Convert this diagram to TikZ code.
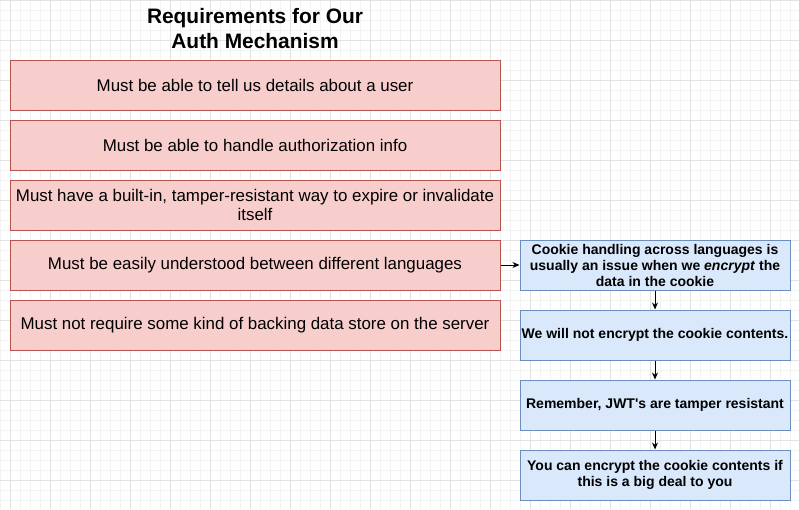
\documentclass[tikz,border=0pt]{standalone}
\usepackage{fontspec}
\setmainfont{Liberation Sans}[Ligatures=TeXOff]
\usetikzlibrary{arrows.meta}
\definecolor{redfill}{HTML}{F8CECC}
\definecolor{redline}{HTML}{B85450}
\definecolor{bluefill}{HTML}{DAE8FC}
\definecolor{blueline}{HTML}{6C8EBF}
\definecolor{gridminor}{HTML}{F3F3F3}
\definecolor{gridmajor}{HTML}{E2E2E2}
\tikzset{
  reqbox/.style={draw=redline, fill=redfill, line width=1pt, minimum width=490pt, minimum height=50pt, align=center, inner sep=0pt, font=\fontsize{16.9}{19.5}\selectfont},
  notebox/.style={draw=blueline, fill=bluefill, line width=1pt, minimum width=270pt, minimum height=50pt, align=center, inner sep=0pt, font=\bfseries\fontsize{14}{16}\selectfont},
  conn/.style={-{Stealth[length=7pt,width=6pt]}, line width=0.9pt, black},
  titletext/.style={align=center, font=\bfseries\fontsize{20.9}{25}\selectfont}
}
\begin{document}
\begin{tikzpicture}[x=1pt,y=-1pt]
\useasboundingbox (0,0) rectangle (799,509);
\fill[white] (0,0) rectangle (799,509);
% grid
\foreach \i in {0,10,...,790} {\draw[gridminor, line width=0.8pt] (\i,0) -- (\i,509);}
\foreach \j in {0,10,...,500} {\draw[gridminor, line width=0.8pt] (0,\j) -- (799,\j);}
\foreach \i in {10,50,...,790} {\draw[gridmajor, line width=0.8pt] (\i,0) -- (\i,509);}
\foreach \j in {0,40,...,480} {\draw[gridmajor, line width=0.8pt] (0,\j) -- (799,\j);}
% title
\node[titletext] (title) at (255,29) {Requirements for Our\\Auth Mechanism};
% requirement boxes
\node[reqbox] (r1) at (255,85) {Must be able to tell us details about a user};
\node[reqbox] (r2) at (255,145) {Must be able to handle authorization info};
\node[reqbox] (r3) at (255,205) {Must have a built-in, tamper-resistant way to expire or invalidate\\itself};
\node[reqbox] (r4) at (255,265) {Must be easily understood between different languages};
\node[reqbox] (r5) at (255,325) {Must not require some kind of backing data store on the server};
% notes
\node[notebox] (n1) at (655,265) {Cookie handling across languages is\\usually an issue when we \textit{encrypt} the\\data in the cookie};
\node[notebox] (n2) at (655,335) {We will not encrypt the cookie contents.};
\node[notebox] (n3) at (655,405) {Remember, JWT's are tamper resistant};
\node[notebox] (n4) at (655,475) {You can encrypt the cookie contents if\\this is a big deal to you};
% connectors
\draw[conn] (r4.east) -- (n1.west);
\draw[conn] (n1.south) -- (n2.north);
\draw[conn] (n2.south) -- (n3.north);
\draw[conn] (n3.south) -- (n4.north);
\end{tikzpicture}
\end{document}
